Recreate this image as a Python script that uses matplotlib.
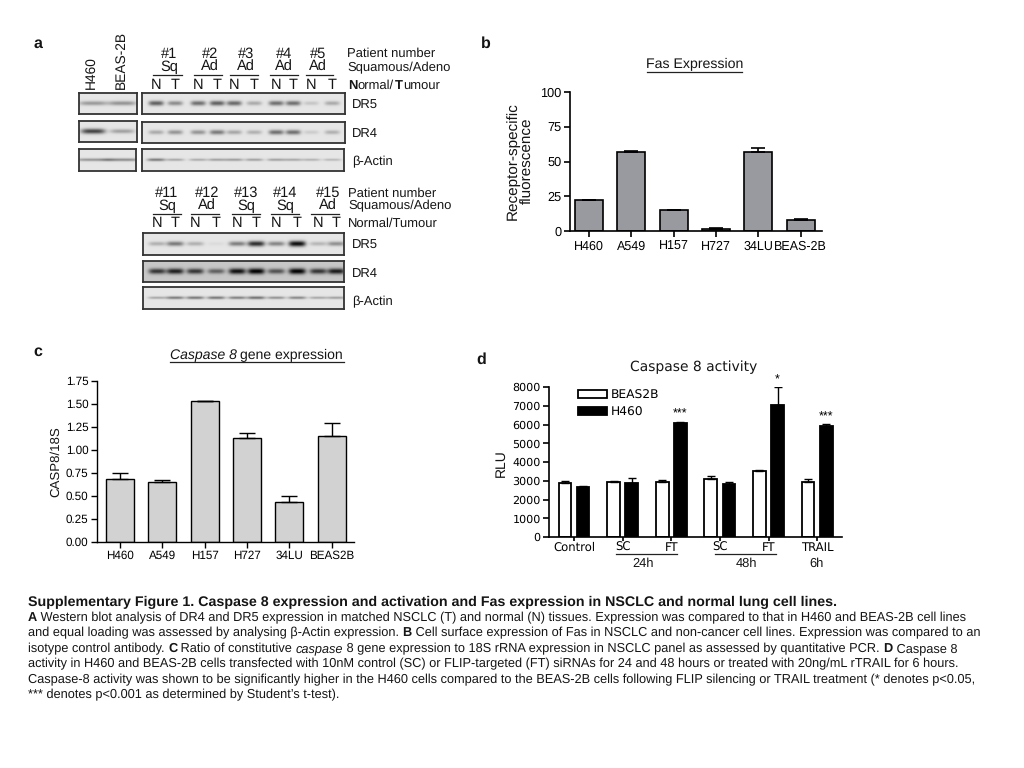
import matplotlib
matplotlib.use('Agg')
import matplotlib.pyplot as plt
from matplotlib.lines import Line2D
import numpy as np

plt.rcParams['font.family'] = ['Liberation Sans', 'DejaVu Sans']
plt.rcParams['text.hinting'] = 'no_hinting'

W, H = 1024, 768

# panel a - band darkness per lane, read by eye (0 = nothing, 1 = black)
cell_lanes = [93, 122]
top_lanes = [156, 175, 198, 217, 234, 254, 276, 293, 311, 332]
bot_lanes = [157, 175, 195, 216, 237, 256, 276, 297, 318, 336]
top_dr5_cells = [0.35, 0.38]
top_dr4_cells = [0.75, 0.32]
top_actin_cells = [0.38, 0.42]
top_dr5 = [0.62, 0.42, 0.55, 0.62, 0.58, 0.28, 0.55, 0.55, 0.15, 0.28]
top_dr4 = [0.28, 0.38, 0.38, 0.5, 0.3, 0.25, 0.55, 0.55, 0.12, 0.25]
top_actin = [0.5, 0.3, 0.28, 0.33, 0.35, 0.33, 0.33, 0.3, 0.25, 0.22]
bot_dr5 = [0.25, 0.5, 0.25, 0.05, 0.48, 0.85, 0.45, 1.0, 0.22, 0.4]
bot_dr4 = [0.68, 0.78, 0.68, 0.48, 0.85, 0.92, 0.55, 0.92, 0.68, 0.8]
bot_actin = [0.3, 0.5, 0.52, 0.52, 0.48, 0.55, 0.4, 0.45, 0.3, 0.33]

# panel b
fas_lines = ['H460', 'A549', 'H157', 'H727', '34LU', 'BEAS-2B']
fas_vals = [22, 57, 15, 1.5, 57, 8]
fas_err = [0.3, 0.3, 0.3, 0.5, 2.5, 0.3]

# panel c
casp_lines = ['H460', 'A549', 'H157', 'H727', '34LU', 'BEAS2B']
casp_vals = [0.68, 0.65, 1.53, 1.13, 0.44, 1.15]
casp_err = [0.07, 0.02, 0.005, 0.05, 0.06, 0.14]

# panel d
act_groups = ['Control', 'SC', 'FT', 'SC', 'FT', 'TRAIL']
beas_vals = [2900, 2950, 2950, 3100, 3500, 2950]
beas_err = [80, 20, 90, 130, 100, 120]
h460_vals = [2650, 2900, 6100, 2850, 7050, 5900]
h460_err = [70, 230, 60, 70, 950, 130]
stars = ['', '', '***', '', '*', '***']

caption = [
    [('A', 'bold'), (' Western blot analysis of DR4 and DR5 expression in matched NSCLC (T) and normal (N) tissues. Expression was compared to that in H460 and BEAS-2B cell lines', 'normal')],
    [('and equal loading was assessed by analysing β-Actin expression. ', 'normal'), ('B', 'bold'), (' Cell surface expression of Fas in NSCLC and non-cancer cell lines. Expression was compared to an', 'normal')],
    [('isotype control antibody. ', 'normal'), ('C', 'bold'), (' Ratio of constitutive ', 'normal'), ('caspase', 'italic'), (' 8 gene expression to 18S rRNA expression in NSCLC panel as assessed by quantitative PCR. ', 'normal'), ('D', 'bold'), (' Caspase 8', 'normal')],
    [('activity in H460 and BEAS-2B cells transfected with 10nM control (SC) or FLIP-targeted (FT) siRNAs for 24 and 48 hours or treated with 20ng/mL rTRAIL for 6 hours.', 'normal')],
    [('Caspase-8 activity was shown to be significantly higher in the H460 cells compared to the BEAS-2B cells following FLIP silencing or TRAIL treatment (* denotes p<0.05,', 'normal')],
    [('*** denotes p<0.001 as determined by Student’s t-test).', 'normal')],
]

fig = plt.figure(figsize=(W / 100, H / 100), dpi=100, facecolor='white')
renderer = fig.canvas.get_renderer()


def box(x0, y0, x1, y1):
    return [x0 / W, 1 - y1 / H, (x1 - x0) / W, (y1 - y0) / H]


def label(x, y, s, size=9, ha='left', va='center', **kw):
    return fig.text(x / W, 1 - y / H, s, fontsize=size, ha=ha, va=va, color='#151515', **kw)


def rule(x0, x1, y, lw=0.9, color='#222222'):
    fig.add_artist(Line2D([x0 / W, x1 / W], [1 - y / H, 1 - y / H], lw=lw, color=color))


def blot(x0, y0, x1, y1, lanes, darkness, spread=7.5, thick=1.8, bg=0.9):
    ax = fig.add_axes(box(x0, y0, x1, y1))
    xs = np.arange(x0, x1, 0.5)
    ys = np.arange(y0, y1, 0.5)
    gx, gy = np.meshgrid(xs, ys)
    mid = (y0 + y1) / 2 - 0.5
    img = np.full(gx.shape, bg)
    for pos, d in zip(lanes, darkness):
        img -= d * 0.85 * np.exp(-((gx - pos) / spread) ** 4 - ((gy - mid) / (thick + d)) ** 2)
    ax.imshow(np.clip(img, 0, 1), cmap='gray', vmin=0, vmax=1, aspect='auto',
              extent=(x0, x1, y1, y0), interpolation='bilinear')
    ax.set_xticks([])
    ax.set_yticks([])
    for s in ax.spines.values():
        s.set_linewidth(1.3)
        s.set_color('#333333')


def style_axes(ax, lw=1.2, size=9):
    ax.spines['top'].set_visible(False)
    ax.spines['right'].set_visible(False)
    ax.spines['left'].set_linewidth(lw)
    ax.spines['bottom'].set_linewidth(lw)
    ax.tick_params(width=lw, length=4, labelsize=size, pad=2)


# panel letters
for x, y, s in [(38, 44, 'a'), (486, 44, 'b'), (38, 352, 'c'), (481, 360, 'd')]:
    label(x, y, s, size=11.5, ha='center', fontweight='bold')

# panel a, top
label(91, 89, 'H460', size=9.9, ha='center', va='bottom', rotation=90)
label(121, 89, 'BEAS-2B', size=9.9, ha='center', va='bottom', rotation=90)
blot(79, 93, 137, 114, cell_lanes, top_dr5_cells, spread=14)
blot(79, 121, 137, 142, cell_lanes, top_dr4_cells, spread=12)
blot(79, 149, 136, 171, cell_lanes, top_actin_cells, spread=18, thick=1.0)
blot(142, 93, 345, 114, top_lanes, top_dr5)
blot(142, 122, 345, 143, top_lanes, top_dr4)
blot(142, 149, 344, 171, top_lanes, top_actin, spread=9, thick=0.9)

for cx, a, b, n, t in [(169, 153, 182, '#1', 'Sq'), (210, 194, 222, '#2', 'Ad'), (246, 230, 258, '#3', 'Ad'),
                       (284, 270, 298, '#4', 'Ad'), (318, 306, 333, '#5', 'Ad')]:
    label(cx, 54, n, size=10.5, ha='center')
    label(cx, 67, t, size=10.5, ha='center')
    rule(a, b, 74.5)
for pos, s in zip(top_lanes, 'NTNTNTNTNT'):
    label(pos, 85, s, size=10.5, ha='center')
label(347, 54, 'Patient number', size=9.4)
label(347, 67.5, 'Squamous/Adeno', size=9.4)
tx = 348
for s, w in [('N', 'bold'), ('ormal/', 'normal'), ('T', 'bold'), ('umour', 'normal')]:
    t = label(tx, 85.5, s, size=9.4, fontweight=w)
    tx = t.get_window_extent(renderer).x1 + 0.5
label(352, 106, 'DR5', size=9.4)
label(352, 134, 'DR4', size=9.4)
label(352, 162, 'β-Actin', size=9.4)

# panel a, bottom
blot(143, 233, 344, 255, bot_lanes, bot_dr5, spread=8.5)
blot(143, 261, 344, 282, bot_lanes, bot_dr4, spread=8.5, bg=0.78, thick=2.0)
blot(143, 287, 344, 309, bot_lanes, bot_actin, spread=9, thick=0.9)
for cx, a, b, n, t in [(167, 153, 181, '#11', 'Sq'), (207, 191, 219, '#12', 'Ad'), (246, 232, 260, '#13', 'Sq'),
                       (285, 271, 299, '#14', 'Sq'), (328, 311, 339, '#15', 'Ad')]:
    label(cx, 193, n, size=10.5, ha='center')
    label(cx, 206, t, size=10.5, ha='center')
    rule(a, b, 213.5)
for pos, s in zip(bot_lanes, 'NTNTNTNTNT'):
    label(pos, 223, s, size=10.5, ha='center')
label(348, 194, 'Patient number', size=9.4)
label(348, 206, 'Squamous/Adeno', size=9.4)
label(348, 224, 'Normal/Tumour', size=9.4)
label(352, 246, 'DR5', size=9.4)
label(352, 274, 'DR4', size=9.4)
label(352, 302, 'β-Actin', size=9.4)

# panel b
ax_b = fig.add_axes(box(570, 92, 822, 231))
ax_b.bar(range(len(fas_vals)), fas_vals, width=0.66, color='#999aa0', edgecolor='black', linewidth=1.2,
         yerr=[np.zeros(len(fas_err)), fas_err], ecolor='black', error_kw=dict(capsize=5, elinewidth=1.2, capthick=1.2))
ax_b.set_xlim(-0.45, 5.5)
ax_b.set_ylim(0, 100)
ax_b.set_yticks([0, 25, 50, 75, 100])
ax_b.set_xticks(range(len(fas_lines)), fas_lines)
style_axes(ax_b)
ax_b.tick_params(axis='x', labelsize=9, pad=3)
ax_b.tick_params(axis='y', labelsize=9.2)
label(520, 161, 'Receptor-specific\nfluorescence', size=11, ha='center', rotation=90, linespacing=1.05)
label(695, 64, 'Fas Expression', size=10.2, ha='center')
rule(647, 742, 72)

# panel c
ax_c = fig.add_axes(box(97, 381, 354, 542))
ax_c.bar(range(len(casp_vals)), casp_vals, width=0.66, color='#d2d2d2', edgecolor='black', linewidth=1.0,
         yerr=[np.zeros(len(casp_err)), casp_err], ecolor='black', error_kw=dict(capsize=5.5, elinewidth=1.0, capthick=1.0))
ax_c.set_xlim(-0.54, 5.53)
ax_c.set_ylim(0, 1.75)
ax_c.set_yticks([0, 0.25, 0.5, 0.75, 1.0, 1.25, 1.5, 1.75], ['0.00', '0.25', '0.50', '0.75', '1.00', '1.25', '1.50', '1.75'])
ax_c.set_xticks(range(len(casp_lines)), casp_lines)
style_axes(ax_c, lw=1.0, size=8.4)
label(56, 462, 'CASP8/18S', size=9.5, ha='center', rotation=90)
t = label(170, 355, 'Caspase 8', size=10.1, fontstyle='italic')
label(t.get_window_extent(renderer).x1 + 3, 355, 'gene expression', size=10.1)
rule(170, 344, 362)

# panel d
ax_d = fig.add_axes(box(549, 387, 842, 537))
groups = np.arange(len(act_groups))
ekw = dict(capsize=3, elinewidth=1.0, capthick=1.0)
ax_d.bar(groups - 0.187, beas_vals, width=0.26, color='white', edgecolor='black', linewidth=1.3,
         yerr=[np.zeros(6), beas_err], error_kw=ekw, label='BEAS2B')
ax_d.bar(groups + 0.187, h460_vals, width=0.26, color='black', edgecolor='black', linewidth=1.3,
         yerr=[np.zeros(6), h460_err], error_kw=ekw, label='H460')
for g, v, e, s in zip(groups, h460_vals, h460_err, stars):
    if s:
        ax_d.text(g + 0.187, v + e + 50, s, ha='center', va='bottom', fontsize=9, linespacing=1)
ax_d.set_xlim(-0.514, 5.51)
ax_d.set_ylim(0, 8000)
ax_d.set_yticks(range(0, 9000, 1000))
ax_d.set_xticks(groups, act_groups, family='DejaVu Sans')
style_axes(ax_d, lw=1.2, size=8)
ax_d.tick_params(axis='x', labelsize=8.4, pad=0.5, length=3)
for tl in ax_d.get_yticklabels():
    tl.set_family('DejaVu Sans')
ax_d.legend(loc='upper left', bbox_to_anchor=(0.099, 0.985), frameon=False, prop=dict(family='DejaVu Sans', size=8.8),
            handlelength=2.35, handleheight=0.55, handletextpad=0.35, labelspacing=0.45, borderpad=0, borderaxespad=0)
label(501, 463, 'RLU', size=10, ha='center', rotation=90)
label(694, 367, 'Caspase 8 activity', size=10, ha='center', family='DejaVu Sans')
rule(616, 677, 553.5)
rule(715, 776, 553.5)
label(643, 563.5, '24h', size=9.3, ha='center')
label(746, 563.5, '48h', size=9.3, ha='center')
label(817, 563.5, '6h', size=9.3, ha='center')

# caption
label(28, 602, 'Supplementary Figure 1. Caspase 8 expression and activation and Fas expression in NSCLC and normal lung cell lines.',
      size=10.23, fontweight='bold')
for line, y in zip(caption, [618, 633, 649, 664, 679.5, 695]):
    x = 28
    for s, kind in line:
        kw = {'fontweight': 'bold'} if kind == 'bold' else {'fontstyle': 'italic'} if kind == 'italic' else {}
        label(x, y, s, size=9.2, **kw)
        # trailing spaces do not count in the extent, so measure with a stop on the end
        probe = fig.text(0, 0, s + '|', fontsize=9.2, **kw)
        stop = fig.text(0, 0, '|', fontsize=9.2, **kw)
        x += probe.get_window_extent(renderer).width - stop.get_window_extent(renderer).width
        probe.remove()
        stop.remove()

fig.savefig('out.png', dpi=100)
